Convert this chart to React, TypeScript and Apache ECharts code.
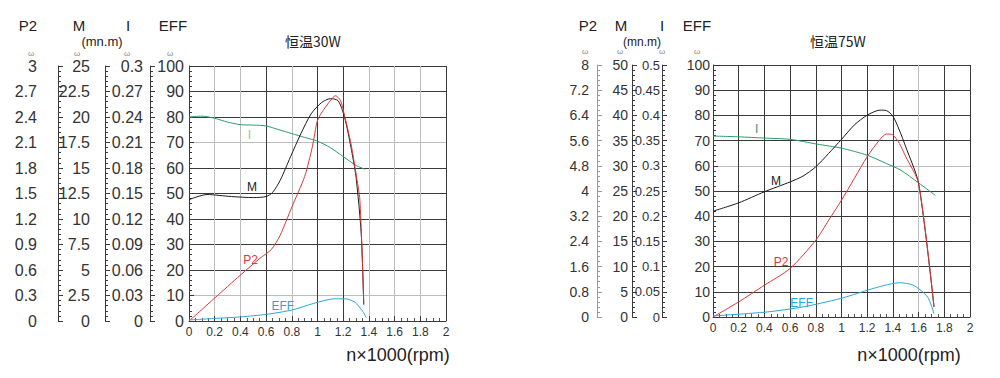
import React, { useEffect, useRef } from "react";
import * as echarts from "echarts";

// ---------- data: 恒温30W ----------
const I30_X = [0, 0.1, 0.2, 0.3, 0.4, 0.5, 0.6, 0.7, 0.8, 0.9, 1.0, 1.1, 1.2, 1.3, 1.37];
const I30 = [0.24, 0.241, 0.2385, 0.234, 0.231, 0.2305, 0.2295, 0.225, 0.2205, 0.216, 0.2115, 0.204, 0.1935, 0.183, 0.1785];
const M30_X = [0, 0.14, 0.33, 0.5, 0.6, 0.65, 0.71, 0.79, 0.87, 0.95, 1.03, 1.1, 1.16, 1.21, 1.26, 1.3, 1.34, 1.36];
const M30 = [11.9, 12.4, 12.2, 12.1, 12.2, 12.6, 13.8, 16.1, 18.35, 20.3, 21.4, 21.8, 21.6, 20.0, 17.05, 14.1, 8.6, 1.6];
const P30_X = [0, 0.2, 0.4, 0.55, 0.64, 0.71, 0.8, 0.9, 0.96, 1.0, 1.05, 1.12, 1.14, 1.18, 1.21, 1.26, 1.3, 1.33, 1.36];
const P30 = [0, 0.27, 0.54, 0.735, 0.84, 1.01, 1.34, 1.7, 2.05, 2.36, 2.49, 2.63, 2.65, 2.59, 2.42, 2.09, 1.73, 1.42, 0.21];
const E30_X = [0, 0.2, 0.4, 0.6, 0.8, 0.97, 1.13, 1.22, 1.29, 1.35, 1.38];
const E30 = [0.4, 1, 1.6, 2.6, 4.3, 6.9, 8.7, 8.7, 7.4, 3.9, 1.3];

// ---------- data: 恒温75W ----------
const I75_X = [0, 0.2, 0.4, 0.6, 0.81, 1.0, 1.2, 1.35, 1.46, 1.6, 1.73];
const I75 = [0.359, 0.3575, 0.355, 0.3525, 0.343, 0.335, 0.321, 0.3045, 0.2915, 0.266, 0.2415];
const M75_X = [0, 0.2, 0.4, 0.6, 0.7, 0.8, 0.9, 1.0, 1.1, 1.2, 1.3, 1.35, 1.4, 1.45, 1.5, 1.6, 1.72];
const M75 = [21, 22.65, 24.85, 26.8, 27.95, 29.8, 32.45, 35.25, 38.1, 40.05, 41.05, 40.95, 39.85, 37.1, 33.75, 26.5, 2];
const P75_X = [0, 0.2, 0.4, 0.6, 0.8, 0.9, 1.0, 1.1, 1.2, 1.3, 1.35, 1.4, 1.45, 1.5, 1.6, 1.72];
const P75 = [0, 0.48, 1.01, 1.54, 2.44, 3.07, 3.71, 4.4, 5.09, 5.64, 5.81, 5.78, 5.51, 5.09, 4.24, 0.32];
const E75_X = [0, 0.42, 0.7, 0.99, 1.2, 1.33, 1.45, 1.56, 1.67, 1.72];
const E75 = [0.4, 2, 4, 7.3, 10.6, 12.5, 13.6, 12.6, 7.9, 1.3];

// axis ranges
const P30_MAX = 3, M30_MAX = 25, I30_MAX = 0.3;
const P75_MAX = 8, M75_MAX = 50, I75_MAX = 0.5;
const EFF_MAX = 100;
const X_MAX = 2;

const TITLES = ["恒温30W", "恒温75W"];
const X_NAME = "n×1000(rpm)";

const COL_I = "#2f9a6c";
const COL_I_LABEL = "#7fd08a";
const COL_M = "#1c1c1c";
const COL_P = "#d8383a";
const COL_E = "#2aa6da";

const DK = "#3a3a3a";
const LT = "#bdbdbd";

const SANS = "'Liberation Sans', Arial, sans-serif";

function pairs(xs: number[], ys: number[]) {
  return xs.map((x, i) => [x, ys[i]]);
}

function xAxis(gridIndex: number, splitColors: string[]) {
  return {
    type: "value",
    gridIndex,
    min: 0,
    max: X_MAX,
    interval: 0.2,
    axisLine: { show: true, lineStyle: { color: DK, width: 1 } },
    axisTick: { show: true, inside: true, length: 5, lineStyle: { color: DK } },
    minorTick: { show: true, splitNumber: 4, length: 3, lineStyle: { color: "#555" } },
    axisLabel: { margin: 5, fontSize: 12, fontFamily: SANS, color: "#333" },
    splitLine: { show: true, lineStyle: { color: splitColors, width: 1 } },
  };
}

function yAxis(
  gridIndex: number,
  max: number,
  offset: number,
  margin: number,
  fontSize: number,
  lineColor: string,
  splitColors?: string[]
) {
  return {
    type: "value",
    gridIndex,
    position: "left",
    offset,
    min: 0,
    max,
    interval: max / 10,
    axisLine: { show: true, onZero: false, lineStyle: { color: lineColor, width: 1 } },
    axisTick: { show: true, inside: true, length: 5, lineStyle: { color: lineColor } },
    minorTick: { show: true, splitNumber: 5, length: 3, lineStyle: { color: lineColor } },
    axisLabel: { margin, fontSize, fontFamily: SANS, color: "#333" },
    splitLine: splitColors
      ? { show: true, lineStyle: { color: splitColors, width: 1 } }
      : { show: false },
  };
}

function line(
  xi: number,
  yi: number,
  data: number[][],
  color: string,
  label: string,
  labelColor: string,
  at: number[]
) {
  return {
    type: "line",
    xAxisIndex: xi,
    yAxisIndex: yi,
    data,
    symbol: "none",
    showSymbol: false,
    smooth: 0.25,
    lineStyle: { width: 1, color },
    silent: true,
    markPoint: {
      silent: true,
      symbol: "circle",
      symbolSize: 0,
      itemStyle: { color: "transparent" },
      label: {
        show: true,
        position: "inside",
        formatter: label,
        color: labelColor,
        fontSize: 12,
        fontFamily: SANS,
      },
      data: [{ coord: at }],
    },
  };
}

function txt(x: number, y: number, text: string, size: number, extra: any = {}) {
  return {
    type: "text",
    x,
    y,
    silent: true,
    style: {
      text,
      fontSize: size,
      fontFamily: SANS,
      fill: "#222",
      align: "center",
      verticalAlign: "middle",
      ...extra,
    },
  };
}

export default function App() {
  const ref = useRef<HTMLDivElement>(null);

  useEffect(() => {
    document.body.style.margin = "0";
    const chart = echarts.init(ref.current!, null, { renderer: "svg" });

    const omega = { fontSize: 8, fill: "#888" };
    const cjk = { fontFamily: "'Noto Sans CJK SC', sans-serif" };

    const option: any = {
      animation: false,
      backgroundColor: "#ffffff",
      grid: [
        { left: 189, top: 66, width: 257, height: 255 },
        { left: 713, top: 65, width: 257, height: 252 },
      ],
      xAxis: [
        xAxis(0, [DK, LT, LT, DK, LT, DK, DK, LT, LT, LT, DK]),
        xAxis(1, [DK, DK, DK, DK, DK, DK, DK, DK, LT, DK, DK]),
      ],
      yAxis: [
        yAxis(0, P30_MAX, 131, 21, 16, DK),
        yAxis(0, M30_MAX, 84, 15, 16, DK),
        yAxis(0, I30_MAX, 39, 7, 16, DK),
        yAxis(0, EFF_MAX, 0, 5, 16, DK, [DK, LT, DK, DK, DK, DK, DK, LT, DK, DK, DK]),
        yAxis(1, P75_MAX, 116, 8, 14, "#9a9a9a"),
        yAxis(1, M75_MAX, 81, 4, 14, DK),
        yAxis(1, I75_MAX, 51, 2, 13, DK),
        yAxis(1, EFF_MAX, 0, 3, 14, DK, [DK, DK, DK, DK, DK, DK, LT, DK, DK, DK, DK]),
      ],
      series: [
        line(0, 2, pairs(I30_X, I30), COL_I, "I", COL_I_LABEL, [0.47, 0.219]),
        line(0, 1, pairs(M30_X, M30), COL_M, "M", COL_M, [0.49, 13.15]),
        line(0, 0, pairs(P30_X, P30), COL_P, "P2", COL_P, [0.48, 0.72]),
        line(0, 3, pairs(E30_X, E30), COL_E, "EFF", COL_E, [0.73, 6]),
        line(1, 6, pairs(I75_X, I75), COL_I, "I", COL_I, [0.34, 0.3725]),
        line(1, 5, pairs(M75_X, M75), COL_M, "M", COL_M, [0.49, 27]),
        line(1, 4, pairs(P75_X, P75), COL_P, "P2", COL_P, [0.53, 1.75]),
        line(1, 7, pairs(E75_X, E75), COL_E, "EFF", COL_E, [0.69, 5.6]),
      ],
      graphic: [
        // left headers
        txt(28, 25, "P2", 15),
        txt(79, 25, "M", 15),
        txt(128, 25, "I", 15),
        txt(173, 25, "EFF", 15),
        txt(102, 41, "(mn.m)", 13),
        txt(31, 53, "ω", 8, omega),
        txt(77, 53, "ω", 8, omega),
        txt(127, 53, "ω", 8, omega),
        txt(170, 53, "ω", 8, omega),
        txt(313, 41, TITLES[0], 14, cjk),
        txt(398, 355, X_NAME, 18),
        // right headers
        txt(588, 25, "P2", 15),
        txt(621, 25, "M", 15),
        txt(662, 25, "I", 15),
        txt(697, 25, "EFF", 15),
        txt(642, 42, "(mn.m)", 12),
        txt(585, 51, "ω", 8, omega),
        txt(620, 51, "ω", 8, omega),
        txt(662, 51, "ω", 8, omega),
        txt(697, 51, "ω", 8, omega),
        txt(838, 41, TITLES[1], 14, cjk),
        txt(909, 355, X_NAME, 18),
      ],
    };

    chart.setOption(option);
    return () => chart.dispose();
  }, []);

  return <div ref={ref} style={{ width: 1000, height: 378 }} />;
}
